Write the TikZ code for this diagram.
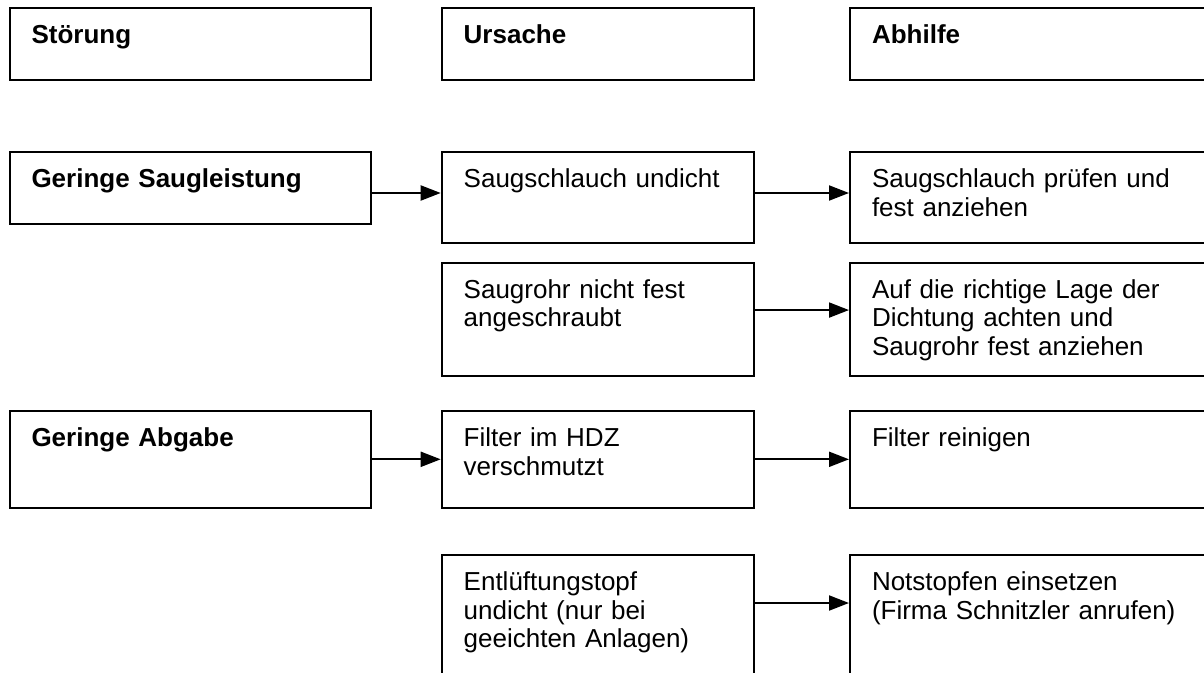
\documentclass[tikz,border=0pt]{standalone}
\usepackage{fontspec}
\setmainfont{Liberation Sans}
\usepackage{tikz}
\usetikzlibrary{arrows.meta}

\begin{document}
\begin{tikzpicture}[x=1pt,y=-1pt,
  cell/.style={draw,line width=2pt,anchor=north west,align=left,
    inner xsep=22pt,inner ysep=0pt,text height=35.5pt,
    font=\fontsize{26}{28.5}\selectfont},
  head/.style={cell,font=\fontsize{26}{28.5}\selectfont\bfseries},
  col1/.style={text width=317pt},
  col2/.style={text width=268.3pt},
  col3/.style={text width=336pt},
  flow/.style={line width=2pt,-{Triangle[length=20pt,width=15pt]}}]
  \useasboundingbox (0,0) rectangle (1204,672);

  % column heads
  \node[head,col1,text depth=36.5pt] (stoerung) at (8.5,7.3) {Störung};
  \node[head,col2,text depth=36.5pt] (ursache) at (440.7,7.3) {Ursache};
  \node[head,col3,text depth=36.5pt] (abhilfe) at (849,7.3) {Abhilfe};

  % Geringe Saugleistung
  \node[head,col1,text depth=36.5pt] (s1) at (8.5,151) {Geringe Saugleistung};
  \node[cell,col2,text depth=55.5pt] (u1) at (440.7,151) {Saugschlauch undicht};
  \node[cell,col3,text depth=55.5pt] (a1) at (849,151) {Saugschlauch prüfen und\\fest anziehen};
  \node[cell,col2,text depth=77.6pt] (u2) at (440.7,261.5) {Saugrohr nicht fest\\angeschraubt};
  \node[cell,col3,text depth=77.6pt] (a2) at (849,261.5) {Auf die richtige Lage der\\Dichtung achten und\\Saugrohr fest anziehen};

  % Geringe Abgabe
  \node[head,col1,text depth=61.1pt] (s2) at (8.5,410) {Geringe Abgabe};
  \node[cell,col2,text depth=61.1pt] (u3) at (440.7,410) {Filter im HDZ\\verschmutzt};
  \node[cell,col3,text depth=61.1pt] (a3) at (849,410) {Filter reinigen};
  \node[cell,col2,text depth=104.5pt] (u4) at (440.7,554) {Entlüftungstopf\\undicht (nur bei\\geeichten Anlagen)};
  \node[cell,col3,text depth=104.5pt] (a4) at (849,554) {Notstopfen einsetzen\\(Firma Schnitzler anrufen)};

  \draw[flow] ([yshift=-5pt]s1.east) -- ([yshift=-5pt]s1.east -| u1.west);
  \draw[flow] ([yshift=4.5pt]u1.east) -- ([yshift=4.5pt]u1.east -| a1.west);
  \draw[flow] ([yshift=9pt]u2.east) -- ([yshift=9pt]u2.east -| a2.west);
  \draw[flow] (s2.east) -- (s2.east -| u3.west);
  \draw[flow] (u3.east) -- (u3.east -| a3.west);
  \draw[flow] ([yshift=22pt]u4.east) -- ([yshift=22pt]u4.east -| a4.west);
\end{tikzpicture}
\end{document}
